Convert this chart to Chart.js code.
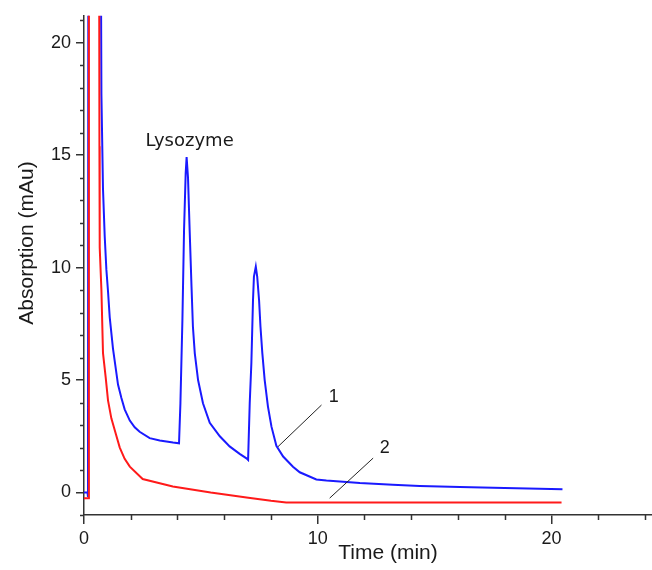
<!DOCTYPE html>
<html>
<head>
<meta charset="utf-8">
<script src="https://cdn.jsdelivr.net/npm/chart.js@4/dist/chart.umd.min.js"></script>
<style>
  html, body { margin: 0; padding: 0; background: #ffffff; }
  #wrap { width: 652px; height: 570px; }
</style>
</head>
<body>
<div id="wrap"><canvas id="c" width="652" height="570"></canvas></div>
<script>
// ---- data ----
const blueTime = [0, 0.15, 0.17, 0.19, 0.70, 0.745, 0.813, 0.886, 0.958, 1.027, 1.10, 1.24, 1.455, 1.60, 1.74, 1.96, 2.17, 2.38, 2.81, 3.24, 3.81, 4.065,
  4.125, 4.21, 4.28, 4.35, 4.39, 4.45, 4.52, 4.60, 4.66, 4.74, 4.88, 5.09, 5.38, 5.81, 6.23, 6.66, 6.95, 7.02,
  7.09, 7.16, 7.23, 7.27, 7.35, 7.41, 7.49, 7.55, 7.63, 7.73, 7.87, 8.02, 8.23, 8.52, 8.94, 9.23, 9.94, 10.37,
  11.23, 11.80, 13.21, 14.36, 16.08, 18.0, 20.47];
const blueAbs = [0, 0, -0.2, 30, 30, 17.7, 13.5, 11.4, 9.9, 8.95, 7.8, 6.4, 4.8, 4.2, 3.7, 3.2, 2.9, 2.7, 2.42, 2.31, 2.22, 2.19,
  3.97, 7.67, 11.67, 14.2, 14.92, 14.0, 11.67, 9.15, 7.37, 6.19, 5.0, 3.97, 3.1, 2.5, 2.05, 1.72, 1.52, 1.45,
  3.97, 5.75, 8.55, 9.6, 10.04, 9.6, 8.55, 7.37, 6.19, 5.0, 3.82, 2.93, 2.08, 1.6, 1.15, 0.9, 0.58, 0.53,
  0.47, 0.42, 0.34, 0.29, 0.25, 0.2, 0.15];

const redTime = [0, 0.2, 0.21, 0.64, 0.66, 0.672, 0.745, 0.813, 0.93, 1.027, 1.17, 1.39, 1.53, 1.74, 1.96, 2.51, 3.80, 5.42, 7.03, 8.0, 8.65, 20.43];
const redAbs = [-0.25, -0.25, 30, 30, 15.4, 10.9, 9.0, 6.2, 5.1, 4.1, 3.3, 2.5, 2.0, 1.5, 1.15, 0.6, 0.27, 0.0, -0.23, -0.37, -0.44, -0.44];

const xTickLabels = [0, 10, 20];
const xMinorTicks = [2, 4, 6, 8, 12, 14, 16, 18, 22, 24];
const yTickLabels = [0, 5, 10, 15, 20];
const yMinorTicks = [-1, 1, 2, 3, 4, 6, 7, 8, 9, 11, 12, 13, 14, 16, 17, 18, 19, 21];

const xTitle = 'Time (min)';
const yTitle = 'Absorption (mAu)';
const peakLabel = 'Lysozyme';
const curveLabels = ['1', '2'];

const toPoints = (xs, ys) => xs.map((x, i) => ({ x: x, y: ys[i] }));

const AXIS_COLOR = '#333333';
const TEXT_COLOR = '#1a1a1a';
const TICK_FONT = { family: 'Liberation Sans, Arial, sans-serif', size: 18 };

const extras = {
  id: 'extras',
  afterDraw(chart) {
    const ctx = chart.ctx;
    const xs = chart.scales.x, ys = chart.scales.y;
    const area = chart.chartArea;
    ctx.save();
    // minor ticks
    ctx.strokeStyle = AXIS_COLOR;
    ctx.lineWidth = 1.5;
    ctx.beginPath();
    yMinorTicks.forEach(v => {
      const py = Math.round(ys.getPixelForValue(v)) + 0.5;
      ctx.moveTo(area.left - 4, py); ctx.lineTo(area.left, py);
    });
    xMinorTicks.forEach(v => {
      const px = Math.round(xs.getPixelForValue(v)) + 0.5;
      ctx.moveTo(px, area.bottom); ctx.lineTo(px, area.bottom + 5);
    });
    ctx.stroke();

    // leader lines for curve labels
    ctx.strokeStyle = '#222222';
    ctx.lineWidth = 1;
    ctx.beginPath();
    ctx.moveTo(xs.getPixelForValue(8.30), ys.getPixelForValue(2.04));
    ctx.lineTo(xs.getPixelForValue(10.16), ys.getPixelForValue(3.89));
    ctx.moveTo(xs.getPixelForValue(10.51), ys.getPixelForValue(-0.25));
    ctx.lineTo(xs.getPixelForValue(12.37), ys.getPixelForValue(1.53));
    ctx.stroke();

    // texts
    ctx.fillStyle = TEXT_COLOR;
    ctx.textAlign = 'center';
    ctx.textBaseline = 'middle';
    ctx.font = '18px "DejaVu Sans", Verdana, sans-serif';
    ctx.fillText(peakLabel, xs.getPixelForValue(4.52), ys.getPixelForValue(15.6));
    ctx.font = '18px "Liberation Sans", Arial, sans-serif';
    ctx.fillText(curveLabels[0], xs.getPixelForValue(10.69), ys.getPixelForValue(4.24));
    ctx.fillText(curveLabels[1], xs.getPixelForValue(12.87), ys.getPixelForValue(1.98));

    // axis titles
    ctx.font = '21px "Liberation Sans", Arial, sans-serif';
    ctx.fillText(xTitle, 388, 553);
    ctx.translate(27, 243);
    ctx.rotate(-Math.PI / 2);
    ctx.fillText(yTitle, 0, 0);
    ctx.restore();
  }
};

new Chart(document.getElementById('c'), {
  type: 'line',
  data: {
    datasets: [
      { label: '2', data: toPoints(redTime, redAbs), borderColor: '#ff1a1a', borderWidth: 2, pointRadius: 0, tension: 0, fill: false },
      { label: '1', data: toPoints(blueTime, blueAbs), borderColor: '#1a1aff', borderWidth: 2, pointRadius: 0, tension: 0, fill: false }
    ]
  },
  options: {
    responsive: false,
    animation: false,
    devicePixelRatio: 1,
    layout: { padding: { top: 15, right: 0, left: 0, bottom: 0 } },
    plugins: { legend: { display: false }, tooltip: { enabled: false }, title: { display: false } },
    scales: {
      x: {
        type: 'linear', min: 0, max: 24.3,
        afterBuildTicks: s => { s.ticks = xTickLabels.map(v => ({ value: v })); },
        afterFit: s => { s.height = 55; },
        grid: { drawOnChartArea: false, drawTicks: true, tickLength: 9, color: AXIS_COLOR, lineWidth: 1.5 },
        border: { display: true, color: AXIS_COLOR, width: 1.5 },
        ticks: { font: TICK_FONT, color: TEXT_COLOR, padding: 4, maxRotation: 0, autoSkip: false }
      },
      y: {
        type: 'linear', min: -1, max: 21.2,
        afterBuildTicks: s => { s.ticks = yTickLabels.map(v => ({ value: v })); },
        afterFit: s => { s.width = 84; },
        grid: { drawOnChartArea: false, drawTicks: true, tickLength: 8, color: AXIS_COLOR, lineWidth: 1.5 },
        border: { display: true, color: AXIS_COLOR, width: 1.5 },
        ticks: { font: TICK_FONT, color: TEXT_COLOR, padding: 5, autoSkip: false }
      }
    }
  },
  plugins: [extras]
});
</script>
</body>
</html>
